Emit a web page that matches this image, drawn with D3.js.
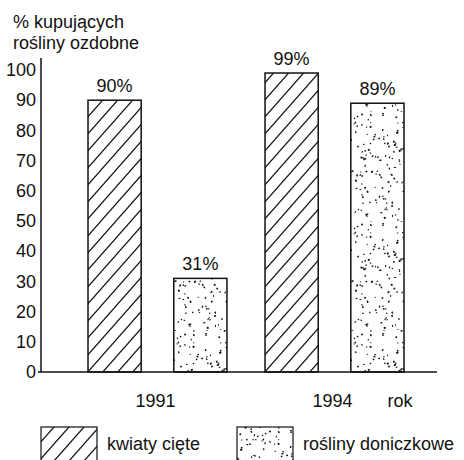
<!DOCTYPE html>
<html>
<head>
<meta charset="utf-8">
<script src="https://cdn.jsdelivr.net/npm/d3@7"></script>
<style>
  body { margin: 0; background: #fff; }
  text { font-family: "Liberation Sans", Arial, sans-serif; font-size: 18px; fill: #111; }
</style>
</head>
<body>
<svg id="chart" width="464" height="460"></svg>
<script>
// Share of buyers of ornamental plants, by year and plant type
const years = ["1991", "1994"];
const series = ["kwiaty cięte", "rośliny doniczkowe"];
const cutFlowers = [90, 99];
const pottedPlants = [31, 89];
const yTicks = [0, 10, 20, 30, 40, 50, 60, 70, 80, 90, 100];
const titleLines = ["% kupujących", "rośliny ozdobne"];
const xAxisName = "rok";

const svg = d3.select("#chart");
const ink = "#111";

const y = d3.scaleLinear().domain([0, 100]).range([372, 70]);
const x0 = d3.scaleBand().domain(years).range([88, 404]).paddingInner(0.215).paddingOuter(0);
const x1 = d3.scaleBand().domain(series).range([0, x0.bandwidth()]).paddingInner(0.38).paddingOuter(0);

// Fill patterns: diagonal hatching and stipple
const defs = svg.append("defs");
const hw = 15, hh = 17;
const hatch = defs.append("pattern")
  .attr("id", "hatch").attr("patternUnits", "userSpaceOnUse")
  .attr("width", hw).attr("height", hh).attr("x", 88).attr("y", 0);
hatch.append("path")
  .attr("d", `M0,${hh} L${hw},0 M${-hw / 4},${hh / 4} L${hw / 4},${-hh / 4} M${hw * 0.75},${hh * 1.25} L${hw * 1.25},${hh * 0.75}`)
  .attr("stroke", ink).attr("stroke-width", 1.2).attr("fill", "none");

// Stipple: a large tile of grains from a seeded generator so the repeat is hard to see
const tw = 64, th = 110;
const stipple = defs.append("pattern")
  .attr("id", "stipple").attr("patternUnits", "userSpaceOnUse")
  .attr("width", tw).attr("height", th);
let seed = 987654;
const next = () => { seed = (seed * 1103515245 + 12345) % 2147483648; return seed / 2147483648; };
const grains = d3.range(170).map(() => ({
  cx: next() * tw, cy: next() * th, rx: 0.55 + next() * 0.45, ry: 0.55 + next() * 0.75, a: next() * 180
}));
stipple.selectAll("ellipse").data(grains).join("ellipse")
  .attr("cx", d => d.cx).attr("cy", d => d.cy)
  .attr("rx", d => d.rx).attr("ry", d => d.ry)
  .attr("transform", d => `rotate(${d.a},${d.cx},${d.cy})`)
  .attr("fill", ink);

const fills = { "kwiaty cięte": "url(#hatch)", "rośliny doniczkowe": "url(#stipple)" };

// Title
svg.append("g").selectAll("text").data(titleLines).join("text")
  .attr("x", 13).attr("y", (d, i) => 28 + i * 21).text(d => d);

// Y axis
const yAxis = svg.append("g").attr("transform", "translate(41,0)")
  .call(d3.axisLeft(y).tickValues(yTicks).tickSize(0).tickPadding(5));
yAxis.select(".domain").remove();
yAxis.selectAll("text").style("font-family", null).style("font-size", null).attr("fill", ink);
svg.append("line").attr("x1", 41).attr("x2", 41).attr("y1", 58).attr("y2", y(0))
  .attr("stroke", ink).attr("stroke-width", 1.5);

// Bars
const rows = years.map((yr, i) => ({ year: yr, values: [
  { key: series[0], value: cutFlowers[i] },
  { key: series[1], value: pottedPlants[i] }
]}));

const groups = svg.append("g").selectAll("g").data(rows).join("g")
  .attr("transform", d => `translate(${x0(d.year)},0)`);

groups.selectAll("rect").data(d => d.values).join("rect")
  .attr("x", d => x1(d.key)).attr("width", x1.bandwidth())
  .attr("y", d => y(d.value)).attr("height", d => y(0) - y(d.value))
  .attr("fill", d => fills[d.key]).attr("stroke", ink).attr("stroke-width", 1.5);

groups.selectAll("text.val").data(d => d.values).join("text")
  .attr("class", "val")
  .attr("x", d => x1(d.key) + x1.bandwidth() / 2)
  .attr("y", d => y(d.value) - 8)
  .attr("text-anchor", "middle")
  .text(d => d.value + "%");

// Baseline
svg.append("line").attr("x1", 38).attr("x2", 437).attr("y1", y(0)).attr("y2", y(0))
  .attr("stroke", ink).attr("stroke-width", 1.5);

// Year labels
svg.append("g").selectAll("text").data(years).join("text")
  .attr("x", d => x0(d) + x0.bandwidth() / 2 - 2).attr("y", 407)
  .attr("text-anchor", "middle").text(d => d);
svg.append("text").attr("x", 400).attr("y", 407).attr("text-anchor", "middle").text(xAxisName);

// Legend
const legendX = [41, 237];
const legend = svg.append("g").selectAll("g").data(series).join("g")
  .attr("transform", (d, i) => `translate(${legendX[i]},427)`);
legend.append("rect").attr("width", 56).attr("height", 44)
  .attr("fill", d => fills[d]).attr("stroke", ink).attr("stroke-width", 1.2);
legend.append("text").attr("x", 66).attr("y", 23).text(d => d);
</script>
</body>
</html>
